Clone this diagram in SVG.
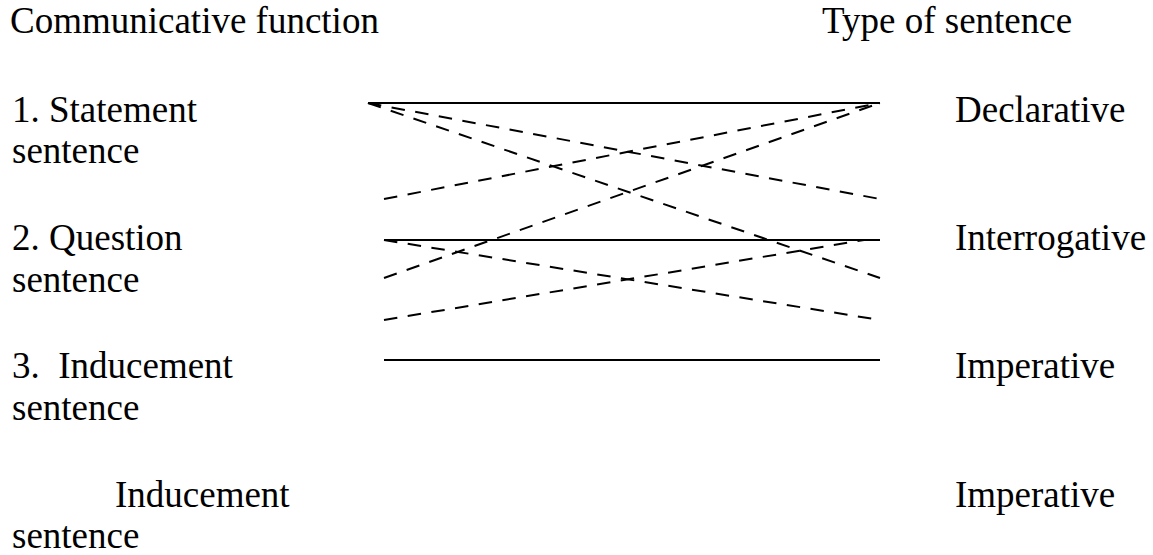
<svg xmlns="http://www.w3.org/2000/svg" width="1153" height="555" viewBox="0 0 1153 555">
<style>
.s{stroke:#000;stroke-width:2;fill:none}
.d{stroke:#000;stroke-width:2;fill:none;stroke-dasharray:13.5 10.5}
</style>
<rect width="1153" height="555" fill="#fff"/>
<g font-family="Liberation Serif, DejaVu Serif, serif" font-size="37" fill="#000">
<g id="header-left"><text x="10" y="33">Communicative function</text></g>
<g id="header-right"><text x="822" y="33">Type of sentence</text></g>
<g id="statement"><text x="12" y="122">1. Statement</text><text x="12" y="163">sentence</text></g>
<g id="question"><text x="12" y="250">2. Question</text><text x="12" y="292">sentence</text></g>
<g id="inducement"><text x="12" y="378" xml:space="preserve">3.  Inducement</text><text x="12" y="420">sentence</text></g>
<g id="inducement2"><text x="115" y="507">Inducement</text><text x="12" y="548">sentence</text></g>
<g id="declarative"><text x="955" y="122">Declarative</text></g>
<g id="interrogative"><text x="955" y="250">Interrogative</text></g>
<g id="imperative"><text x="955" y="378">Imperative</text></g>
<g id="imperative2"><text x="955" y="507">Imperative</text></g>
</g>
<g id="connectors">
<line class="s" x1="368" y1="103" x2="880" y2="103"/>
<line class="d" x1="368" y1="103" x2="880" y2="199"/>
<line class="d" x1="368" y1="103" x2="880" y2="278"/>
<line class="d" x1="384" y1="199" x2="880" y2="103"/>
<line class="d" x1="384" y1="278" x2="880" y2="103"/>
<line class="s" x1="384" y1="240" x2="880" y2="240"/>
<line class="d" x1="384" y1="240" x2="880" y2="320"/>
<line class="d" x1="384" y1="320" x2="864" y2="240"/>
<line class="s" x1="384" y1="360" x2="880" y2="360"/>
</g>
</svg>
